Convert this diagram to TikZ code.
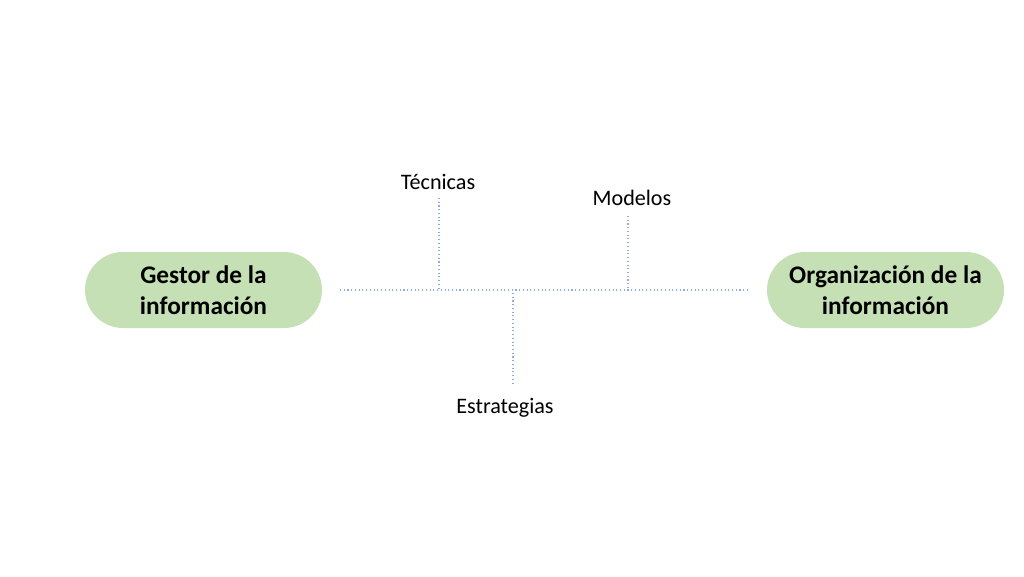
\documentclass[tikz,border=0pt]{standalone}
\usepackage{fontspec}
\setmainfont{Carlito}
\usetikzlibrary{positioning}
\definecolor{pillgreen}{RGB}{197,224,180}
\definecolor{axisblue}{RGB}{143,170,220}

\begin{document}
\begin{tikzpicture}[x=0.75pt,y=-0.75pt,
				pill/.style={rectangle, rounded corners=28.5pt, fill=pillgreen, draw=none, minimum width=177.75pt, minimum height=57pt, align=center, font=\fontsize{19}{23.2}\selectfont\bfseries},
				tag/.style={font=\fontsize{16.6}{20}\selectfont, inner sep=1pt},
				axis/.style={draw=axisblue, dotted, line width=0.8pt}
			]
			\useasboundingbox (0,0) rectangle (1024,576);
			
			\node[pill] (gestor) at (203.5,290) {Gestor de la\\información};
			\node[pill] (organizacion) at (885.5,290) {Organización de la\\información};
			
			\coordinate (a_in) at (340,290);
			\coordinate (a_out) at (750,290);
			\coordinate (a_t) at (439,290);
			\coordinate (a_m) at (628,290);
			\coordinate (a_e) at (513,293);
			
			\node[tag] (tecnicas) at (438,182) {Técnicas};
			\node[tag] (modelos) at (632,198) {Modelos};
			\node[tag] (estrategias) at (505,408) {Estrategias};
			
			\coordinate (t_top) at (439,198);
			\coordinate (m_top) at (628,216);
			\coordinate (e_bot) at (513,386);
			
			\draw[axis] (a_in) -- (a_out);
			\draw[axis] (t_top) -- (a_t);
			\draw[axis] (m_top) -- (a_m);
			\draw[axis] (a_e) -- (e_bot);
		\end{tikzpicture}
\end{document}
